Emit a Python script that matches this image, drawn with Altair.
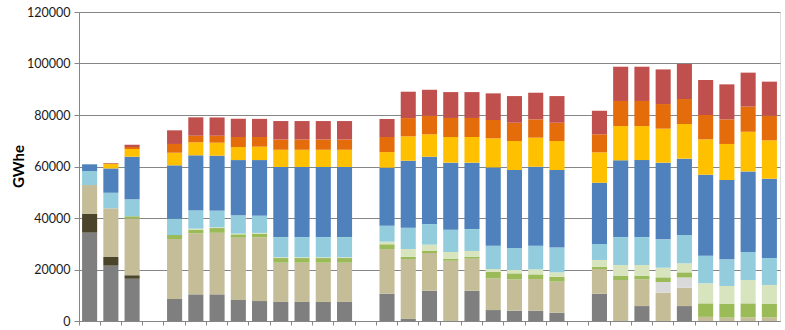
import altair as alt
import pandas as pd

categories = [f"c{i:02d}" for i in range(33)]

series_names = ["gray", "olive", "tan", "lgray", "green", "pgreen",
                "lblue", "blue", "yellow", "orange", "red"]
series_colors = ["#7F7F7F", "#4A452A", "#C4BD97", "#D9D9D9", "#9BBB59", "#D7E4BD",
                 "#93CDDD", "#4F81BD", "#FFC000", "#E46C0A", "#C0504D"]

gray = [34300, 21500, 16400, 0, 8550, 10350, 10350, 8150, 7750, 7400, 7400, 7400, 7400, 0,
        10600, 800, 11750, 0, 11750, 4250, 4000, 4000, 3200, 0,
        10600, 0, 5800, 0, 5800, 0, 0, 0, 0]
olive = [7250, 3350, 1350, 0, 0, 0, 0, 0, 0, 0, 0, 0, 0, 0,
         0, 0, 0, 0, 0, 0, 0, 0, 0, 0,
         0, 0, 0, 0, 0, 0, 0, 0, 0]
tan = [11250, 18900, 22100, 0, 23300, 23700, 23900, 24200, 24700, 15250, 15250, 15250, 15250, 0,
       17350, 23250, 14650, 23400, 12450, 12300, 12200, 12300, 12100, 0,
       9600, 15900, 10400, 11000, 7150, 1600, 1300, 1400, 1400]
lgray = [0, 0, 0, 0, 0, 0, 0, 0, 0, 0, 0, 0, 0, 0,
         0, 0, 0, 0, 0, 0, 0, 0, 0, 0,
         0, 0, 0, 4150, 3950, 0, 0, 0, 0]
green = [0, 0, 800, 0, 1550, 1300, 1850, 1300, 1450, 1800, 1800, 1800, 1800, 0,
         1850, 900, 800, 800, 800, 2600, 2300, 1800, 1900, 0,
         900, 1600, 1400, 1800, 2000, 5250, 5300, 5450, 5200]
pgreen = [0, 0, 0, 0, 0, 500, 300, 300, 300, 300, 300, 300, 300, 0,
          1000, 3000, 2450, 2600, 2200, 1050, 1300, 1950, 1700, 0,
          2600, 4250, 4150, 3750, 3500, 7800, 7000, 9050, 7400]
lblue = [5450, 6050, 6600, 0, 6300, 7100, 6450, 7100, 6700, 7850, 7850, 7850, 7850, 0,
         6200, 8300, 8000, 8650, 8500, 9050, 8550, 9200, 9600, 0,
         6200, 10850, 10850, 11000, 11000, 10700, 10350, 10900, 10450]
blue = [2600, 9450, 16550, 0, 20750, 21400, 21350, 21450, 21600, 27200, 27200, 27200, 27200, 0,
        22550, 26000, 26150, 26050, 25800, 30400, 30300, 30650, 30150, 0,
        23800, 29800, 29900, 29800, 29650, 31450, 30800, 31300, 30800]
yellow = [0, 1700, 3000, 0, 4900, 5050, 5050, 5050, 5200, 6700, 6700, 6700, 6700, 0,
          6050, 9450, 8700, 9950, 9950, 11300, 11250, 11300, 11250, 0,
          11800, 13300, 13200, 13200, 13450, 13750, 14000, 15400, 14900]
orange = [0, 200, 800, 0, 3400, 2550, 2700, 3900, 3750, 4000, 4000, 4000, 4000, 0,
          5850, 7100, 7250, 7400, 7400, 7100, 7100, 7100, 7100, 0,
          7000, 9750, 9750, 9550, 9700, 9450, 9550, 9750, 9600]
red = [0, 200, 800, 0, 5300, 7150, 7100, 7100, 7050, 7150, 7150, 7150, 7150, 0,
       7000, 10250, 10050, 10050, 10050, 10350, 10350, 10350, 10350, 0,
       9150, 13300, 13300, 13450, 13600, 13600, 13600, 13200, 13200]

y_ticks = [0, 20000, 40000, 60000, 80000, 100000, 120000]

all_series = [gray, olive, tan, lgray, green, pgreen, lblue, blue, yellow, orange, red]
rows = []
for si, (name, vals) in enumerate(zip(series_names, all_series)):
    for c, v in zip(categories, vals):
        if v > 0:
            rows.append({"cat": c, "series": name, "order": si, "value": v})
df = pd.DataFrame(rows)

font = "Lato"

chart = alt.Chart(df).mark_bar(width=alt.RelativeBandSize(0.71)).encode(
    x=alt.X("cat:N", sort=categories,
            scale=alt.Scale(domain=categories, paddingInner=0, paddingOuter=0),
            axis=alt.Axis(title=None, labels=False, bandPosition=0, ticks=True,
                          tickSize=4, tickColor="#868686", domainColor="#868686",
                          grid=False)),
    y=alt.Y("value:Q", stack="zero",
            scale=alt.Scale(domain=[0, 120000], nice=False),
            axis=alt.Axis(title="GWhe", values=y_ticks, format="d",
                          tickSize=5, tickColor="#868686", domainColor="#868686",
                          gridColor="#868686", gridWidth=1,
                          labelFont=font, labelFontSize=12.5, labelColor="#1a1a1a",
                          labelPadding=4,
                          titleFont=font, titleFontSize=15, titleFontWeight="bold",
                          titleColor="#000000", titleX=-61, titleY=154,
                          titleBaseline="middle", titleAngle=-90)),
    color=alt.Color("series:N", scale=alt.Scale(domain=series_names, range=series_colors),
                    legend=None),
    order=alt.Order("order:Q", sort="ascending"),
).properties(
    width=701, height=309,
    autosize=alt.AutoSizeParams(type="none"),
    padding={"left": 79, "top": 12, "right": 5, "bottom": 9},
).configure_view(stroke=None).configure(background="white")

chart.save("out.html", embed_options={"renderer": "svg", "actions": False})
